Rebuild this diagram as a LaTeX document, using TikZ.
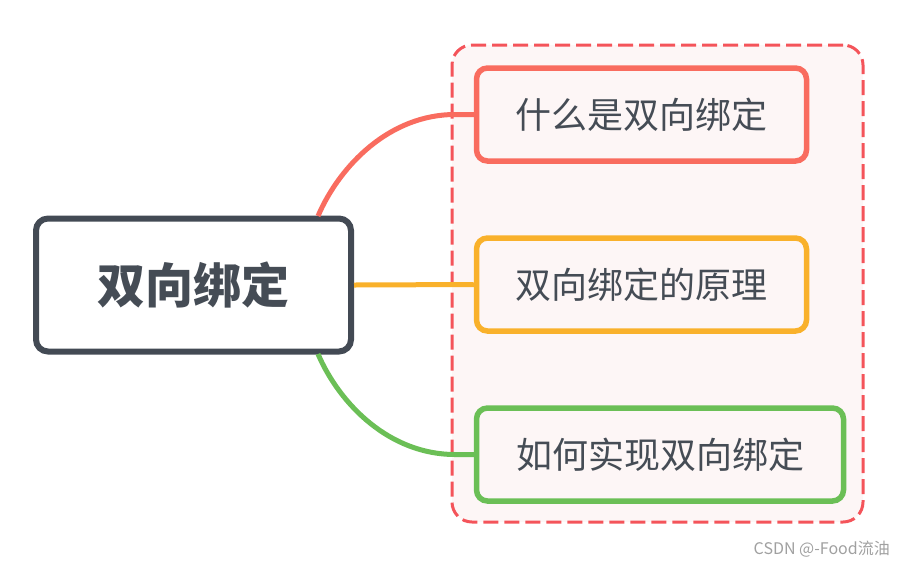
\documentclass[tikz,border=0pt]{standalone}
\usepackage{fontspec}
\setmainfont{Noto Sans CJK SC}
\usetikzlibrary{calc}
\definecolor{darkc}{HTML}{434A54}
\definecolor{txtc}{HTML}{454C55}
\definecolor{redc}{HTML}{F96C5F}
\definecolor{dashc}{HTML}{F4545A}
\definecolor{boxfill}{HTML}{FDF6F6}
\definecolor{orangec}{HTML}{F9B12B}
\definecolor{greenc}{HTML}{6BBF56}
\definecolor{markc}{HTML}{A0A0A0}
\tikzset{
  mainbox/.style={draw=darkc, line width=6pt, rounded corners=12pt, fill=white,
    minimum width=315pt, minimum height=133pt, inner sep=0pt,
    text=txtc, font=\fontsize{48}{56}\selectfont\bfseries},
  childbox/.style={line width=5.5pt, rounded corners=11pt, fill=boxfill,
    minimum height=93pt, inner sep=0pt,
    text=txtc, font=\fontsize{36}{42}\selectfont},
  groupbox/.style={draw=dashc, line width=3pt, dash pattern=on 15pt off 6pt,
    rounded corners=20pt, fill=boxfill, minimum width=411pt, minimum height=477pt, inner sep=0pt},
  link/.style={line width=5pt}
}
\begin{document}
\begin{tikzpicture}[x=1pt,y=-1pt]
\useasboundingbox (0,0) rectangle (902,566);
\node[groupbox] (grp) at (657.5,283.5) {};
\node[mainbox] (main) at (193.5,285) {双向绑定};
\node[childbox, draw=redc, minimum width=330pt] (c1) at (641.5,114.5) {什么是双向绑定};
\node[childbox, draw=orangec, minimum width=330pt] (c2) at (641.5,284.5) {双向绑定的原理};
\node[childbox, draw=greenc, minimum width=367pt] (c3) at (660,454.5) {如何实现双向绑定};
\coordinate (r0) at (318,216);
\coordinate (g0) at (318,354);
\draw[link, draw=redc] (r0) .. controls (340,165) and (390,114.5) .. (455,114.5) -- (c1.west);
\draw[link, draw=orangec] (main.east) -- (c2.west);
\draw[link, draw=greenc] (g0) .. controls (340,405) and (390,454.5) .. (455,454.5) -- (c3.west);
\node[anchor=east, text=markc, font=\fontsize{16}{18}\selectfont, inner sep=0pt] (wm) at (890,549) {CSDN @-Food流油};
\end{tikzpicture}
\end{document}
